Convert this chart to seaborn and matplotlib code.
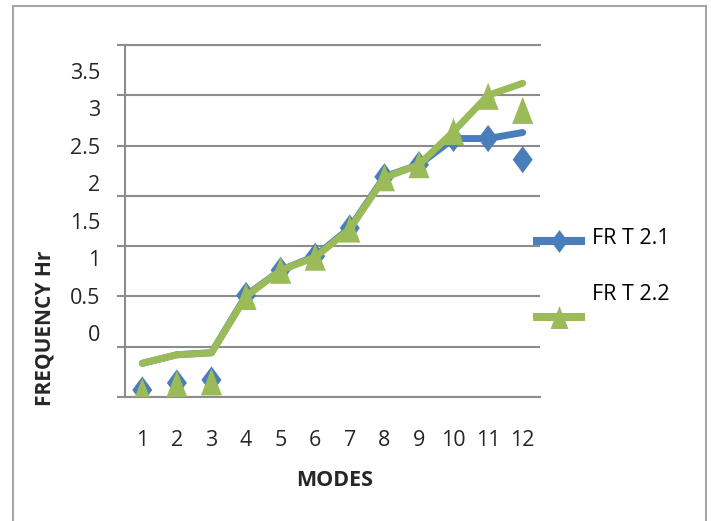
import numpy as np
import matplotlib
matplotlib.use("Agg")
import matplotlib.pyplot as plt
from matplotlib.path import Path
from matplotlib.patches import Rectangle
import seaborn as sns

# Mode numbers on the category axis
modes = list(range(1, 13))
mode_labels = [str(m) for m in modes]

# Frequency readings (Hz) for the two test runs: marker points and connecting line
fr21_points = [0.07, 0.14, 0.17, 1.01, 1.26, 1.40, 1.68, 2.19, 2.31, 2.57, 2.57, 2.36]
fr21_line = [0.335, 0.42, 0.44, 1.01, 1.26, 1.40, 1.68, 2.19, 2.31, 2.57, 2.57, 2.63]
fr22_points = [0.055, 0.13, 0.15, 1.00, 1.26, 1.39, 1.67, 2.18, 2.31, 2.64, 2.99, 2.85]
fr22_line = [0.335, 0.42, 0.44, 1.00, 1.26, 1.39, 1.67, 2.18, 2.31, 2.64, 3.00, 3.12]

series_names = ["FR T 2.1", "FR T 2.2"]

# Value axis: gridlines and printed labels
grid_values = [0, 0.5, 1, 1.5, 2, 2.5, 3, 3.5]
label_values = [0, 0.5, 1, 1.5, 2, 2.5, 3, 3.5]
label_texts = ["0", "0.5", "1", "1.5", "2", "2.5", "3", "3.5"]

BLUE = "#4a7ebb"
GREEN = "#9bbb59"
GRID = "#8c8c8c"

sns.set_style("white")
plt.rcParams["font.family"] = ["Open Sans", "DejaVu Sans"]

W, H = 711, 521
fig = plt.figure(figsize=(W / 100, H / 100), dpi=100)
fig.patch.set_facecolor("white")

# chart-area frame
fig.patches.append(Rectangle((13 / W, -0.05), (706 - 13) / W, (H - 6) / H + 0.05,
                             transform=fig.transFigure, fill=False,
                             edgecolor="#a6a6a6", lw=1.5))

ax = fig.add_axes([125 / W, (H - 397) / H, 415 / W, 352 / H])
ax.set_xlim(0.5, 12.5)
ax.set_ylim(0, 3.5)
ax.set_axisbelow(True)

diamond = Path([(0, 1), (0.74, 0), (0, -1), (-0.74, 0), (0, 1)], closed=True)
triangle = Path([(0, 1), (0.78, -1), (-0.78, -1), (0, 1)], closed=True)

# series 1
sns.lineplot(x=modes, y=fr21_line, color=BLUE, lw=5, ax=ax, sort=False,
             errorbar=None, legend=False, zorder=2)
sns.scatterplot(x=modes, y=fr21_points, marker=diamond, s=19.5 ** 2, color=BLUE,
                edgecolor="none", linewidth=0, ax=ax, legend=False, zorder=3)
# series 2
sns.lineplot(x=modes, y=fr22_line, color=GREEN, lw=5, ax=ax, sort=False,
             errorbar=None, legend=False, zorder=4)
sns.scatterplot(x=modes, y=fr22_points, marker=triangle, s=19.5 ** 2, color=GREEN,
                edgecolor="none", linewidth=0, ax=ax, legend=False, zorder=5)

# gridlines and outward tick marks
ax.set_yticks(grid_values)
ax.grid(axis="y", color=GRID, lw=1.5)
ax.grid(axis="x", visible=False)
ax.tick_params(axis="y", left=True, direction="out", length=5.8, width=1.5,
               color=GRID, labelleft=False)
for side in ["left", "top", "bottom"]:
    ax.spines[side].set_visible(True)
    ax.spines[side].set_color(GRID)
    ax.spines[side].set_linewidth(1.5)
ax.spines["right"].set_visible(False)

ax.set_xticks(modes)
ax.set_xticklabels(mode_labels)
ax.tick_params(axis="x", length=0, pad=24, labelsize=15.5)

ax.set_xlabel("MODES", fontsize=15.5, fontweight="bold", va="center")
ax.xaxis.set_label_coords((335 - 125) / 415, (397 - 480) / 352)
ax.set_ylabel("FREQUENCY Hr", fontsize=15, fontweight="bold", va="center")
ax.yaxis.set_label_coords((45 - 125) / 415, (397 - 328) / 352)

# value labels on their own scale
ax2 = ax.twinx()
ax2.set_ylim(-0.849, 3.844)
ax2.set_yticks(label_values)
ax2.set_yticklabels(label_texts)
ax2.yaxis.tick_left()
ax2.tick_params(axis="y", length=0, pad=18, labelsize=15.5)
for s in ax2.spines.values():
    s.set_visible(False)

# legend
def legend_entry(y_line, y_text, color, marker, ms, name):
    ax.plot([0.983, 1.108], [y_line, y_line], transform=ax.transAxes, clip_on=False,
            color=color, lw=5.8, solid_capstyle="butt", zorder=6)
    ax.plot([1.046], [y_line], transform=ax.transAxes, clip_on=False, ls="none",
            marker=marker, ms=ms, mfc=color, mec="none", zorder=7)
    ax.text(1.1245, y_text, name, transform=ax.transAxes, ha="left", va="center",
            fontsize=15.5, color="black")

legend_entry((397 - 240.5) / 352, (397 - 238) / 352, BLUE, diamond, 16.5, series_names[0])
legend_entry((397 - 317) / 352, (397 - 294) / 352, GREEN, triangle, 16.5, series_names[1])

fig.savefig("out.png", dpi=100)
